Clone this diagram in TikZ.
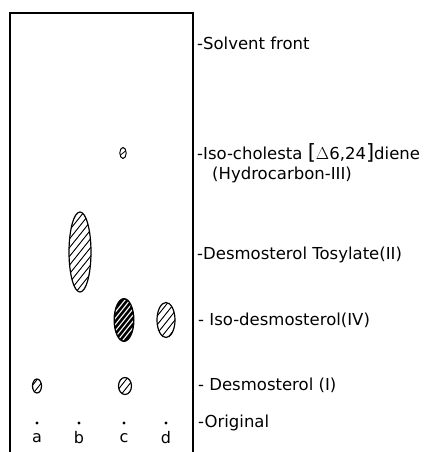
\documentclass[tikz,border=0pt]{standalone}
\usepackage{fontspec}
\setmainfont{DejaVu Sans}
\begin{document}
\begin{tikzpicture}[x=1pt,y=-1pt,
  frame/.style={line width=1.1pt},
  lbl/.style={anchor=west,inner sep=0pt,font=\fontsize{16.5}{19}\selectfont},
  lane/.style={anchor=center,inner sep=0pt,font=\fontsize{16}{19}\selectfont},
  spotedge/.style={line width=1.2pt}]
\useasboundingbox (0,0) rectangle (426,452);
% plate frame
\draw[frame] (10,452) -- (10,13) -- (193,13) -- (193,452);
% hatched spots (light)
\newcommand{\hatchspot}[5]{%
  \begin{scope}
    \clip (#1,#2) ellipse [x radius=#3, y radius=#4];
    \foreach \k in {-63,-56,...,63} {
      \draw[line width=0.9pt] ({#1+\k+#5-40},{#2+50}) -- ({#1+\k+#5+40},{#2-50});
    }
  \end{scope}
  \draw[spotedge] (#1,#2) ellipse [x radius=#3, y radius=#4];}
\newcommand{\darkspot}[4]{%
  \fill (#1,#2) ellipse [x radius=#3, y radius=#4];
  \begin{scope}
    \clip (#1,#2) ellipse [x radius=#3-1.5, y radius=#4-1.5];
    \foreach \k in {-60,-55,...,60} {
      \draw[white,line width=1.1pt] ({#1+\k-40},{#2+50}) -- ({#1+\k+40},{#2-50});
    }
  \end{scope}}
\hatchspot{80}{252}{11}{40}{0}
\darkspot{124}{320}{10.5}{22}
\hatchspot{166}{320}{9}{17.5}{2}
\hatchspot{37}{386}{4.5}{7}{2}
\hatchspot{125}{386}{6.5}{8.5}{3}
% top spot in lane c
\draw[line width=1pt] (123,153) ellipse [x radius=3.2, y radius=5.5];
\draw[line width=0.8pt] (120.5,155) -- (125.5,151);
% origin dots
\foreach \x/\n in {37/a,79/b,124/c,166/d} {
  \fill (\x,423) circle (1.7);
  \node[lane] (lane\n) at (\x,438) {\n};
}
% labels
\node[lbl] (sf) at (197,43) {-Solvent front};
\node[lbl] (iso) at (197,153) {-Iso-cholesta {\fontsize{21}{21}\selectfont[}$\Delta$6,24{\fontsize{21}{21}\selectfont]}diene};
\node[lbl] (hc) at (212,175) {(Hydrocarbon-III)};
\node[lbl] (dt) at (197,255) {-Desmosterol Tosylate(II)};
\node[lbl] (idm) at (198,320) {- Iso-desmosterol(IV)};
\node[lbl] (dm) at (198,385) {- Desmosterol (I)};
\node[lbl] (orig) at (198,423) {-Original};
\end{tikzpicture}
\end{document}
